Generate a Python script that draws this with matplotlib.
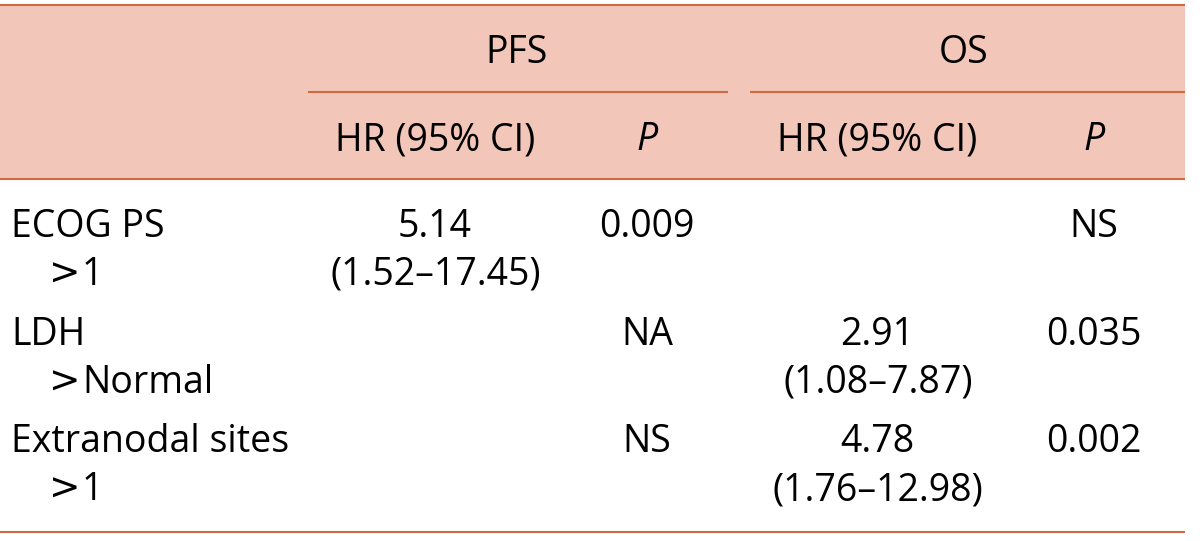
import matplotlib.pyplot as plt
from matplotlib.patches import Rectangle

# table content
groups = ["PFS", "OS"]
col_headers = ["HR (95% CI)", "P", "HR (95% CI)", "P"]
col_italic = [False, True, False, True]
factors = ["ECOG PS", "LDH", "Extranodal sites"]
levels = ["1", "Normal", "1"]  # each shown after a ">" sign
hr_pfs = [("5.14", "(1.52\u201317.45)"), ("", ""), ("", "")]
p_pfs = ["0.009", "NA", "NS"]
hr_os = [("", ""), ("2.91", "(1.08\u20137.87)"), ("4.78", "(1.76\u201312.98)")]
p_os = ["NS", "0.035", "0.002"]

band_color = "#F2C6B8"
line_color = "#CF6A40"
font = "Open Sans"
fs = 27

W, H = 1200, 541
fig = plt.figure(figsize=(12, 5.41), dpi=100)
ax = fig.add_axes([0, 0, 1, 1])
ax.set_xlim(0, W)
ax.set_ylim(H, 0)
ax.axis("off")

right = 1185
ax.add_patch(Rectangle((0, 5), right, 174, color=band_color, lw=0, zorder=0))
lw = 1.5
ax.hlines([5, 179, 532], 0, right, color=line_color, lw=lw)
ax.hlines([92, 92], [308, 750], [728, right], color=line_color, lw=lw)

# header
group_x = [517, 964]
for g, x in zip(groups, group_x):
    ax.text(x, 63, g, ha="center", va="baseline", fontsize=fs, family=font)

col_x = [435, 647, 877, 1094]
for h, x, it in zip(col_headers, col_x, col_italic):
    ax.text(x, 150, h, ha="center", va="baseline", fontsize=fs, family=font,
            style="italic" if it else "normal")

# body
row_base = [237, 345, 452]
sub_gap = 48
for i in range(len(factors)):
    y = row_base[i]
    ax.text(11, y, factors[i], ha="left", va="baseline", fontsize=fs, family=font)
    ax.text(65, y + sub_gap, ">", ha="center", va="baseline", fontsize=fs, family="DejaVu Sans")
    ax.text(82, y + sub_gap, levels[i], ha="left", va="baseline", fontsize=fs, family=font)
    ax.text(col_x[0], y, hr_pfs[i][0], ha="center", va="baseline", fontsize=fs, family=font)
    ax.text(col_x[0] + 1, y + sub_gap, hr_pfs[i][1], ha="center", va="baseline", fontsize=fs, family=font)
    ax.text(col_x[1], y, p_pfs[i], ha="center", va="baseline", fontsize=fs, family=font)
    ax.text(col_x[2], y, hr_os[i][0], ha="center", va="baseline", fontsize=fs, family=font)
    ax.text(col_x[2] + 1, y + sub_gap, hr_os[i][1], ha="center", va="baseline", fontsize=fs, family=font)
    ax.text(col_x[3], y, p_os[i], ha="center", va="baseline", fontsize=fs, family=font)

fig.savefig("out.png", dpi=100)
